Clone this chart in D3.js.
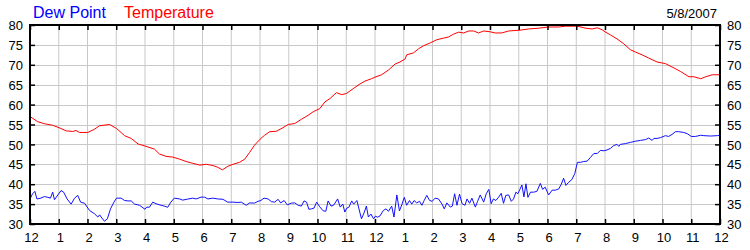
<!DOCTYPE html>
<html>
<head>
<meta charset="utf-8">
<script src="https://cdn.jsdelivr.net/npm/d3@7"></script>
<style>
  html, body { margin: 0; padding: 0; background: #fff; }
  svg { display: block; font-family: Arial, "Liberation Sans", sans-serif; }
</style>
</head>
<body>
<svg id="chart" width="750" height="250"></svg>
<script>
// ---- data ----
const dateLabel = "5/8/2007";
const seriesNames = ["Dew Point", "Temperature"];
const hourTickLabels = ["12","1","2","3","4","5","6","7","8","9","10","11","12","1","2","3","4","5","6","7","8","9","10","11","12"];
const yTicks = [30, 35, 40, 45, 50, 55, 60, 65, 70, 75, 80];

const tempHours = [0, 0.27, 0.5, 0.79, 1.01, 1.26, 1.49, 1.6, 1.72, 2.01, 2.24, 2.42, 2.77, 3.01, 3.29, 3.52, 3.76,
  4.0, 4.33, 4.5, 4.73, 4.97, 5.2, 5.43, 5.66, 5.9, 6.13, 6.36, 6.53, 6.69, 6.88, 7.06, 7.29, 7.47, 7.64, 7.81,
  8.0, 8.16, 8.34, 8.57, 8.8, 8.98, 9.21, 9.44, 9.67, 9.85, 10.08, 10.26, 10.43, 10.66, 10.84, 11.01, 11.24, 11.48, 11.65, 11.88,
  12.0, 12.23, 12.47, 12.7, 12.87, 13.05, 13.1, 13.34, 13.51, 13.69, 13.92, 14.15, 14.38, 14.56, 14.73, 14.91, 15.08, 15.26, 15.43, 15.6, 15.78,
  16.0, 16.18, 16.41, 16.65, 17.04, 17.34, 17.69, 18.04, 18.39, 18.62, 19.04, 19.32, 19.55, 19.73, 19.9,
  20.0, 20.19, 20.42, 20.65, 20.88, 21.06, 21.29, 21.52, 21.81, 22.1, 22.4, 22.63, 22.92, 23.09, 23.33, 23.5, 23.73, 24.0];
const tempValues = [57.0, 55.7, 55.2, 54.8, 54.2, 53.4, 53.25, 53.5, 53.0, 53.0, 53.8, 54.7, 55.0, 54.0, 52.2, 51.5, 50.1,
  49.6, 48.8, 47.6, 47.0, 46.8, 46.3, 45.7, 45.25, 44.8, 45.0, 44.7, 44.25, 43.6, 44.5, 45.0, 45.5, 46.3, 48.0, 49.8,
  51.3, 52.3, 53.2, 53.3, 54.2, 55.0, 55.25, 56.3, 57.3, 58.2, 59.0, 60.7, 61.5, 63.0, 62.5, 62.8, 64.0, 65.2, 65.9, 66.5,
  66.9, 67.5, 68.7, 70.2, 70.7, 71.5, 72.5, 73.0, 74.0, 74.8, 75.5, 76.3, 76.7, 77.0, 77.7, 78.2, 78.0, 78.5, 78.5, 78.0, 78.5,
  78.3, 78.0, 78.0, 78.5, 78.7, 79.0, 79.2, 79.5, 79.5, 79.7, 79.7, 79.2, 79.0, 79.3, 78.8,
  78.3, 77.5, 76.5, 75.3, 73.8, 73.2, 72.5, 71.7, 70.7, 70.3, 69.2, 68.3, 67.0, 67.0, 66.5, 67.0, 67.5, 67.5];

const dewHours = [0, 0.09, 0.17, 0.24, 0.38, 0.5, 0.62, 0.71, 0.79, 0.85, 0.97, 1.08, 1.17, 1.29, 1.43, 1.55, 1.66, 1.76, 1.9,
  2.07, 2.24, 2.36, 2.42, 2.5, 2.59, 2.69, 2.8, 2.92, 3.01, 3.17, 3.29, 3.41, 3.52, 3.64, 3.81,
  4.0, 4.06, 4.15, 4.27, 4.38, 4.56, 4.67, 4.79, 4.9, 5.02, 5.2, 5.31, 5.48, 5.66, 5.78, 5.95, 6.07, 6.19, 6.36, 6.53, 6.71, 6.88,
  7.06, 7.23, 7.35, 7.52, 7.64, 7.81, 7.93,
  8.03, 8.14, 8.28, 8.4, 8.51, 8.63, 8.72, 8.84, 8.95, 9.09, 9.21, 9.33, 9.44, 9.53, 9.62, 9.7, 9.79, 9.88, 9.97,
  10.08, 10.2, 10.29, 10.37, 10.47, 10.56, 10.7, 10.79, 10.88, 10.95, 11.02, 11.09, 11.19, 11.26, 11.37, 11.47, 11.53, 11.63, 11.7, 11.77, 11.86, 11.95,
  12.02, 12.08, 12.17, 12.29, 12.38, 12.47, 12.58, 12.66, 12.76, 12.85, 12.93, 13.02, 13.1, 13.2, 13.28, 13.36, 13.45, 13.55, 13.63, 13.71, 13.8, 13.9, 13.99,
  14.09, 14.21, 14.33, 14.41, 14.5, 14.62, 14.69, 14.77, 14.85, 14.94, 15.03, 15.13, 15.2, 15.29, 15.37, 15.49, 15.57, 15.66, 15.78, 15.87, 15.96,
  16.04, 16.12, 16.2, 16.3, 16.39, 16.47, 16.55, 16.65, 16.74, 16.82, 16.9, 16.97, 17.04, 17.11, 17.18, 17.25, 17.32, 17.41, 17.52, 17.63, 17.75, 17.83, 17.92,
  18.04, 18.16, 18.27, 18.39, 18.48, 18.56, 18.64, 18.74, 18.85, 18.95, 19.04, 19.15, 19.26, 19.38, 19.49, 19.61, 19.73, 19.84, 19.96,
  20.07, 20.19, 20.3, 20.42, 20.48, 20.53, 20.71, 20.88, 21.06, 21.23, 21.41, 21.52, 21.64, 21.7, 21.81, 21.93,
  22.1, 22.21, 22.33, 22.45, 22.56, 22.74, 22.86, 23.0, 23.15, 23.33, 23.44, 23.67, 23.91, 24.0];
const dewValues = [36.3, 37.6, 38.2, 36.3, 36.5, 36.9, 36.7, 36.5, 38.0, 36.1, 37.3, 38.4, 38.0, 36.3, 35.0, 36.5, 37.2, 35.5, 35.2,
  33.4, 32.6, 31.75, 32.3, 31.5, 30.7, 31.3, 33.8, 35.5, 36.5, 36.5, 35.9, 35.8, 35.8, 35.0, 34.7,
  33.7, 34.25, 34.2, 35.5, 35.1, 34.7, 34.5, 34.2, 35.5, 36.5, 36.3, 36.0, 36.25, 36.5, 36.3, 36.75, 36.75, 36.3, 36.5, 36.3, 36.2, 35.5,
  35.5, 35.4, 35.5, 34.7, 35.3, 35.25, 35.7,
  35.9, 36.5, 36.3, 35.6, 35.5, 36.2, 35.3, 35.9, 34.8, 35.25, 35.3, 34.7, 34.5, 35.8, 35.5, 33.7, 33.8, 34.0, 35.5,
  34.3, 33.3, 33.2, 35.8, 34.5, 34.7, 36.3, 34.25, 35.0, 33.0, 34.0, 34.2, 35.8, 35.0, 35.9, 33.0, 31.3, 33.0, 34.5, 31.75, 32.5, 31.3,
  32.0, 31.7, 32.0, 33.4, 33.8, 33.2, 34.5, 31.75, 37.3, 33.3, 34.8, 36.7, 34.7, 35.9, 35.0, 35.9, 35.3, 35.7, 34.7, 35.9, 37.2, 35.9, 35.7,
  36.5, 36.3, 35.0, 33.8, 35.3, 34.25, 34.5, 37.6, 34.7, 37.5, 35.1, 34.7, 36.3, 35.2, 36.5, 34.25, 35.7, 37.3, 35.5, 37.6, 38.7,
  35.1, 36.3, 35.9, 36.75, 37.7, 35.2, 37.2, 37.3, 35.7, 36.3, 38.0, 37.6, 38.7, 39.8, 36.8, 40.1, 36.7, 38.0, 38.0, 38.2, 40.2, 38.7, 39.25,
  37.3, 38.5, 38.5, 38.8, 40.0, 41.5, 39.7, 40.5, 41.2, 42.7, 45.5, 45.5, 45.7, 45.8, 46.7, 47.7, 47.7, 48.5, 48.4,
  48.6, 49.0, 49.7, 50.0, 49.5, 50.0, 50.2, 50.5, 50.8, 51.0, 51.2, 51.6, 51.0, 51.5, 51.5, 51.7,
  52.2, 52.0, 52.5, 53.2, 53.2, 53.0, 52.7, 52.0, 52.0, 52.3, 52.2, 52.1, 52.2, 52.3];

// ---- layout ----
const svg = d3.select("#chart");
const padL = 30, padR = 720, padT = 25, padB = 224;
const x = d3.scaleLinear().domain([0, 24]).range([padL, padR]);
const y = d3.scaleLinear().domain([30, 80]).range([padB, padT]);
const hourTicks = d3.range(0, 25);

// gridlines
const grid = svg.append("g").attr("stroke", "#c8c8c8").attr("stroke-width", 1);
grid.selectAll("line.v").data(hourTicks.slice(1, -1)).join("line")
  .attr("x1", d => x(d)).attr("x2", d => x(d)).attr("y1", padT).attr("y2", padB);
grid.selectAll("line.h").data(yTicks.slice(1, -1)).join("line")
  .attr("x1", padL).attr("x2", padR).attr("y1", d => Math.round(y(d)) + 0.5).attr("y2", d => Math.round(y(d)) + 0.5);

// lines
const dewData = dewHours.map((h, i) => [h, dewValues[i]]);
const tempData = tempHours.map((h, i) => [h, tempValues[i]]);
const line = d3.line().x(d => x(d[0])).y(d => y(d[1]));
svg.append("path").datum(dewData).attr("d", line).attr("fill", "none").attr("stroke", "#1010ff").attr("stroke-width", 1);
svg.append("path").datum(tempData).attr("d", line).attr("fill", "none").attr("stroke", "#ff0000").attr("stroke-width", 1);

// axes with inner ticks
const axB = svg.append("g").attr("transform", `translate(0,${padB})`)
  .call(d3.axisBottom(x).tickValues(hourTicks).tickSize(-5).tickPadding(9).tickFormat((d, i) => hourTickLabels[i]));
const axT = svg.append("g").attr("transform", `translate(0,${padT})`)
  .call(d3.axisTop(x).tickValues(hourTicks).tickSize(-5).tickFormat(""));
const axL = svg.append("g").attr("transform", `translate(${padL},0)`)
  .call(d3.axisLeft(y).tickValues(yTicks).tickSize(-5).tickPadding(7).tickFormat(d3.format("d")));
const axR = svg.append("g").attr("transform", `translate(${padR},0)`)
  .call(d3.axisRight(y).tickValues(yTicks).tickSize(-5).tickPadding(7).tickFormat(d3.format("d")));
[axB, axT, axL, axR].forEach(a => {
  a.select(".domain").remove();
  a.selectAll(".tick line").attr("stroke", "#000").attr("stroke-width", 1.5);
  a.selectAll(".tick text").attr("fill", "#000").attr("font-size", 13)
    .attr("font-family", "Arial, 'Liberation Sans', sans-serif");
});
axB.selectAll(".tick text").attr("dx", 1);
axL.selectAll(".tick text").attr("dy", "0.36em");
axR.selectAll(".tick text").attr("dy", "0.36em");

// frame
svg.append("rect").attr("x", padL).attr("y", padT).attr("width", padR - padL).attr("height", padB - padT)
  .attr("fill", "none").attr("stroke", "#000").attr("stroke-width", 2);

// legend & date
svg.append("text").attr("x", 33).attr("y", 17.5).attr("font-size", 16).attr("fill", "#0000ff").text(seriesNames[0]);
svg.append("text").attr("x", 124).attr("y", 17.5).attr("font-size", 16).attr("fill", "#ff0000").text(seriesNames[1]);
svg.append("text").attr("x", 717).attr("y", 17.5).attr("font-size", 13).attr("text-anchor", "end").attr("fill", "#000").text(dateLabel);
</script>
</body>
</html>
